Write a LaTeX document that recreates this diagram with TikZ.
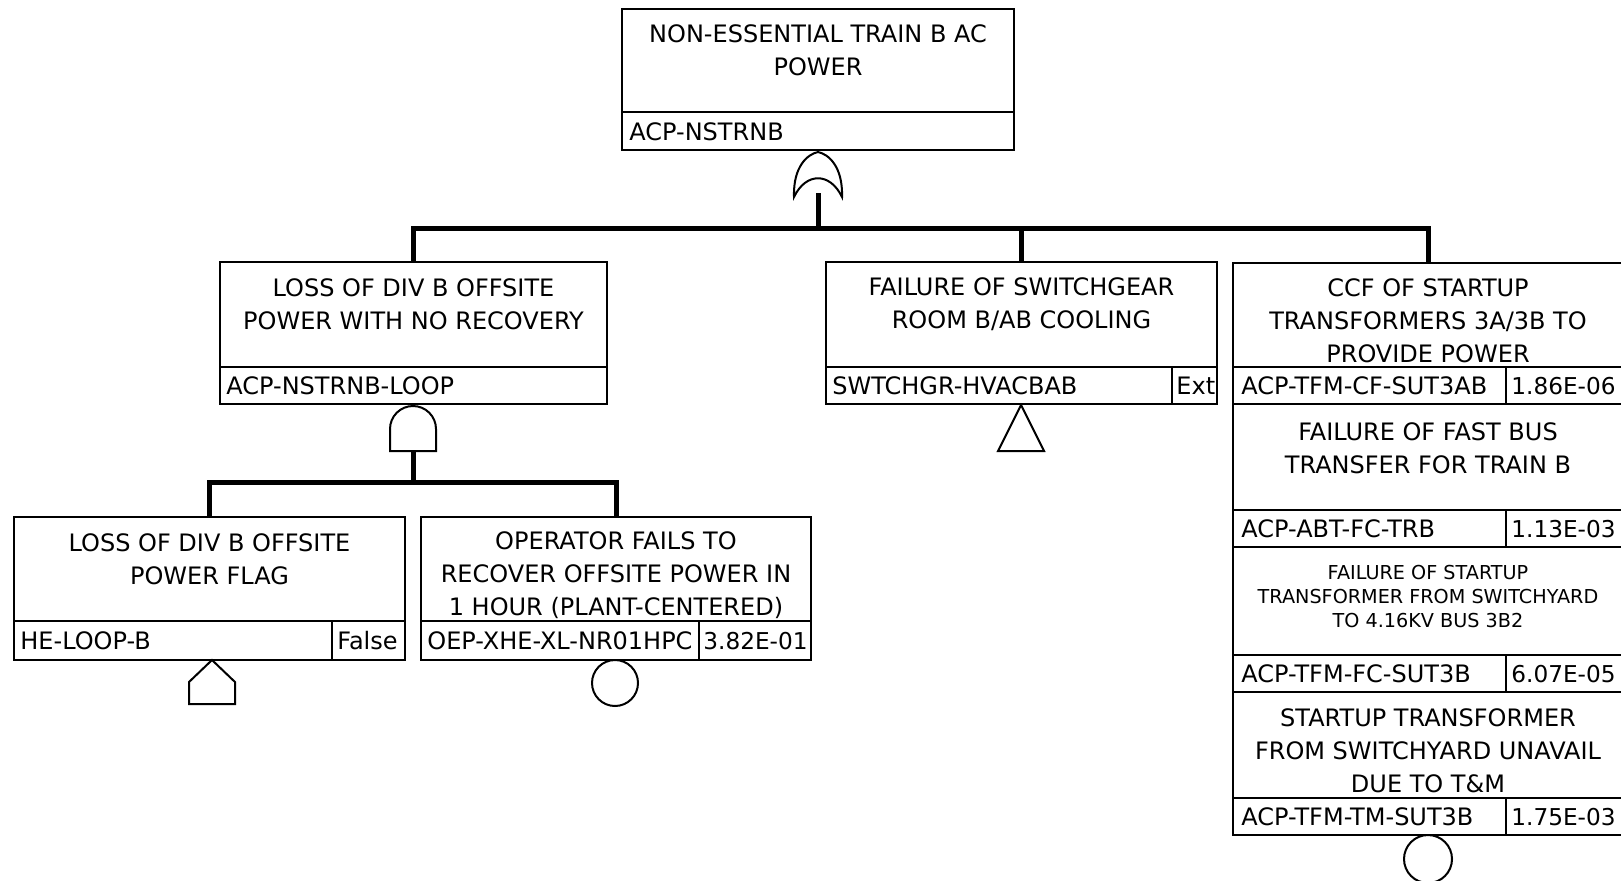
\documentclass[tikz,border=0pt]{standalone}
\usepackage{fontspec}
\setmainfont{DejaVu Sans}
\usetikzlibrary{fit}
\begin{document}
\begin{tikzpicture}[x=0.5pt,y=-0.5pt,
  evframe/.style={draw, line width=1.3pt, inner sep=0pt, outer sep=0pt},
  divline/.style={line width=1pt},
  desc/.style={font=\fontsize{12}{16.5}\selectfont, align=center, inner sep=0pt},
  descsmall/.style={font=\fontsize{9.6}{12}\selectfont, align=center, inner sep=0pt},
  idtext/.style={font=\fontsize{12}{14}\selectfont, anchor=west, inner sep=0pt, text height=8.75pt, text depth=0pt},
  probtext/.style={font=\fontsize{11.6}{14}\selectfont, anchor=west, inner sep=0pt, text height=8.5pt, text depth=0pt},
  conn/.style={line width=2.5pt},
  gateline/.style={line width=1pt, fill=white},
  evcircle/.style={circle, draw, line width=1pt, inner sep=0pt, outer sep=0pt}]
\useasboundingbox (0,0) rectangle (1621,880);
\fill[white] (0,0) rectangle (1621,880);

% ---------- top gate box ----------
\node[evframe, fit={(622,9) (1014,150)}] (T) {};
\draw[divline] (622,112) -- (1014,112);
\node[desc] (Tt) at (818,50) {NON-ESSENTIAL TRAIN B AC\\POWER};
\node[idtext] (Ti) at (629,132) {ACP-NSTRNB};

% OR gate
\draw[gateline] (794,197) .. controls (793,166) and (808,154) .. (818,152)
  .. controls (828,154) and (843,166) .. (842,197)
  .. controls (830,172) and (806,172) .. (794,197) -- cycle;
\coordinate (orS) at (818,193);
\coordinate (j1) at (818,228);

% ---------- level 2 ----------
\node[evframe, fit={(220,262) (607,404)}] (B2) {};
\draw[divline] (220,367) -- (607,367);
\node[desc] (B2t) at (413.5,304.5) {LOSS OF DIV B OFFSITE\\POWER WITH NO RECOVERY};
\node[idtext] (B2i) at (226,386) {ACP-NSTRNB-LOOP};

\node[evframe, fit={(826,262) (1217,404)}] (B5) {};
\draw[divline] (826,367) -- (1217,367);
\draw[divline] (1172,367) -- (1172,404);
\node[desc] (B5t) at (1021.5,304.5) {FAILURE OF SWITCHGEAR\\ROOM B/AB COOLING};
\node[idtext] (B5i) at (832,386) {SWTCHGR-HVACBAB};
\node[idtext] (B5p) at (1176,386) {Ext};
\draw[gateline] (1021,405) -- (1044,451) -- (998,451) -- cycle;

% right column of basic events
\node[evframe, fit={(1233,263) (1624,404)}] (R1) {};
\draw[divline] (1233,367) -- (1624,367);
\draw[divline] (1506,367) -- (1506,404);
\node[desc] (R1t) at (1428,321) {CCF OF STARTUP\\TRANSFORMERS 3A/3B TO\\PROVIDE POWER};
\node[idtext] (R1i) at (1241,386) {ACP-TFM-CF-SUT3AB};
\node[probtext] (R1p) at (1511,386) {1.86E-06};

\node[evframe, fit={(1233,404) (1624,547)}] (R2) {};
\draw[divline] (1233,510) -- (1624,510);
\draw[divline] (1506,510) -- (1506,547);
\node[desc] (R2t) at (1428,448.5) {FAILURE OF FAST BUS\\TRANSFER FOR TRAIN B};
\node[idtext] (R2i) at (1241,528.5) {ACP-ABT-FC-TRB};
\node[probtext] (R2p) at (1511,528.5) {1.13E-03};

\node[evframe, fit={(1233,547) (1624,692)}] (R3) {};
\draw[divline] (1233,655) -- (1624,655);
\draw[divline] (1506,655) -- (1506,692);
\node[descsmall] (R3t) at (1428,596) {FAILURE OF STARTUP\\TRANSFORMER FROM SWITCHYARD\\TO 4.16KV BUS 3B2};
\node[idtext] (R3i) at (1241,673.5) {ACP-TFM-FC-SUT3B};
\node[probtext] (R3p) at (1511,673.5) {6.07E-05};

\node[evframe, fit={(1233,692) (1624,835)}] (R4) {};
\draw[divline] (1233,798) -- (1624,798);
\draw[divline] (1506,798) -- (1506,835);
\node[desc] (R4t) at (1428,751) {STARTUP TRANSFORMER\\FROM SWITCHYARD UNAVAIL\\DUE TO T\&M};
\node[idtext] (R4i) at (1241,816.5) {ACP-TFM-TM-SUT3B};
\node[probtext] (R4p) at (1511,816.5) {1.75E-03};
\node[evcircle, minimum size=24pt] (C2) at (1428,859) {};

% connectors level 1
\draw[conn] (orS) -- (j1);
\draw[conn] (B2.north) |- (j1) -| (R1.north);
\draw[conn] (B5.north |- j1) -- (B5.north);

% AND gate under B2
\draw[gateline] (390,451) -- (390,429) arc[start angle=180, end angle=360, radius=23] -- (436,451) -- cycle;
\coordinate (andS) at (413,451);
\coordinate (j2) at (413,482);

% ---------- level 3 ----------
\node[evframe, fit={(14,517) (405,660)}] (B3) {};
\draw[divline] (14,621) -- (405,621);
\draw[divline] (332,621) -- (332,660);
\node[desc] (B3t) at (209.5,559) {LOSS OF DIV B OFFSITE\\POWER FLAG};
\node[idtext] (B3i) at (20,640.5) {HE-LOOP-B};
\node[idtext] (B3p) at (337,640.5) {False};
\draw[gateline] (189,704) -- (189,682) -- (212,660) -- (235,682) -- (235,704) -- cycle;

\node[evframe, fit={(421,517) (811,660)}] (B4) {};
\draw[divline] (421,621) -- (811,621);
\draw[divline] (699,621) -- (699,660);
\node[desc] (B4t) at (616,575) {OPERATOR FAILS TO\\RECOVER OFFSITE POWER IN\\1 HOUR (PLANT-CENTERED)};
\node[idtext] (B4i) at (427,640.5) {OEP-XHE-XL-NR01HPC};
\node[probtext] (B4p) at (703,640.5) {3.82E-01};
\node[evcircle, minimum size=23pt] (C1) at (615,683) {};

% connectors level 2
\draw[conn] (andS) -- (j2);
\draw[conn] (B3.north) |- (j2) -| (B4.north);
\end{tikzpicture}
\end{document}
